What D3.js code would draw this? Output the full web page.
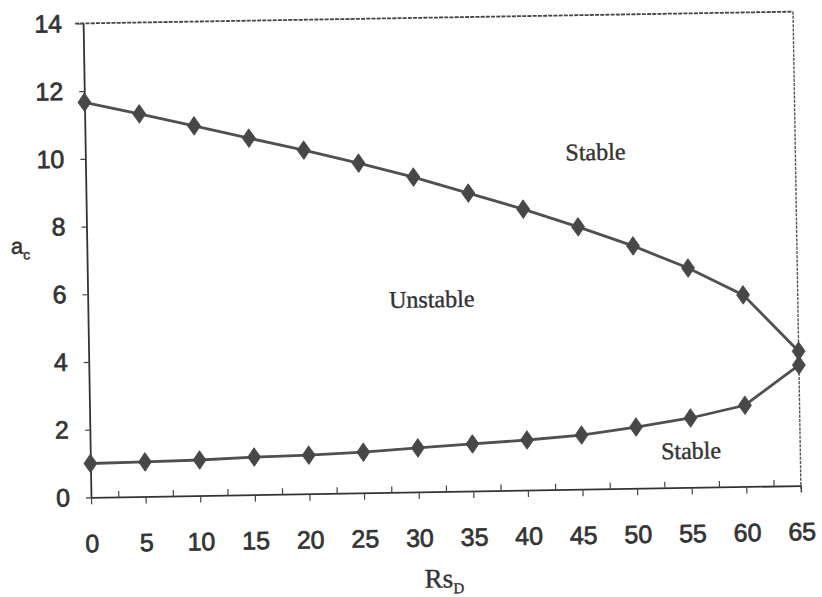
<!DOCTYPE html>
<html>
<head>
<meta charset="utf-8">
<script src="https://cdn.jsdelivr.net/npm/d3@7"></script>
<style>
  html, body { margin: 0; padding: 0; background: #fff; }
  svg { display: block; }
</style>
</head>
<body>
<svg id="chart" width="822" height="597"></svg>
<script>
// ---- data ----
const rsD = [0, 5, 10, 15, 20, 25, 30, 35, 40, 45, 50, 55, 60, 65];
const upperBranch = [11.67, 11.30, 10.92, 10.53, 10.15, 9.74, 9.30, 8.80, 8.30, 7.75, 7.16, 6.48, 5.66, 3.97];
const lowerBranch = [1.00, 1.02, 1.05, 1.11, 1.14, 1.20, 1.30, 1.39, 1.48, 1.60, 1.81, 2.05, 2.40, 3.56];
const xTicks = [0, 5, 10, 15, 20, 25, 30, 35, 40, 45, 50, 55, 60, 65];
const xMinorTicks = [2.5, 7.5, 12.5, 17.5, 22.5, 27.5, 32.5, 37.5, 42.5, 47.5, 52.5, 57.5, 62.5];
const yTicks = [0, 2, 4, 6, 8, 10, 12, 14];
const regionLabels = [
  { text: "Stable", x: 46.7, y: 9.95 },
  { text: "Unstable", x: 31.5, y: 5.68 },
  { text: "Stable", x: 55.0, y: 1.08 }
];

// ---- layout ----
const W = 822, H = 597;
const margin = { left: 87, top: 17.5 };
const width = 710, height = 474;
const angle = -0.95;
const cx = 442, cy = 254.5;

const svg = d3.select("#chart");
svg.append("rect").attr("width", W).attr("height", H).attr("fill", "#ffffff");

const root = svg.append("g").attr("transform", `rotate(${angle} ${cx} ${cy})`);
const g = root.append("g").attr("transform", `translate(${margin.left},${margin.top})`);

const x = d3.scaleLinear().domain([0, 65]).range([0, width]);
const y = d3.scaleLinear().domain([0, 14]).range([height, 0]);

const ink = "#333333";
const lineInk = "#505050";

// top and right frame (dotted in scan)
g.append("line")
  .attr("x1", -8).attr("x2", width).attr("y1", 0).attr("y2", 0)
  .attr("stroke", "#444").attr("stroke-width", 1.8).attr("stroke-dasharray", "4,1.2");
g.append("line")
  .attr("x1", width).attr("x2", width).attr("y1", 0).attr("y2", height + 6)
  .attr("stroke", "#555").attr("stroke-width", 1.4).attr("stroke-dasharray", "3,1.2");

// x axis, major ticks down
const xAxis = g.append("g").attr("transform", `translate(0,${height})`)
  .call(d3.axisBottom(x).tickValues(xTicks).tickSizeInner(7).tickSizeOuter(0).tickPadding(30).tickFormat(d3.format("d")));
// minor ticks up
const xMinor = g.append("g").attr("transform", `translate(0,${height})`)
  .call(d3.axisBottom(x).tickValues(xMinorTicks).tickSizeInner(-6).tickSizeOuter(0).tickFormat(""));
xMinor.select(".domain").remove();

// y axis
const yAxis = g.append("g")
  .call(d3.axisLeft(y).tickValues(yTicks).tickSizeInner(5).tickSizeOuter(0).tickPadding(16).tickFormat(d3.format("d")));

[xAxis, xMinor, yAxis].forEach(a => {
  a.selectAll(".domain").attr("stroke", "#333").attr("stroke-width", 1.8);
  a.selectAll(".tick line").attr("stroke", "#444").attr("stroke-width", 1.2);
});
[xAxis, yAxis].forEach(a => {
  a.selectAll(".tick text")
    .attr("font-family", "'Liberation Sans', Arial, sans-serif")
    .attr("font-size", 25).attr("fill", ink)
    .attr("stroke", ink).attr("stroke-width", 0.7);
});

// lines + markers
const line = d3.line().x(d => x(d[0])).y(d => y(d[1]));
const series = [
  rsD.map((v, i) => [v, upperBranch[i]]),
  rsD.map((v, i) => [v, lowerBranch[i]])
];
const diamond = d3.symbol().type(d3.symbolDiamond).size(100);
series.forEach(s => {
  g.append("path").datum(s).attr("d", line)
    .attr("fill", "none").attr("stroke", lineInk).attr("stroke-width", 2.8);
  g.selectAll(null).data(s).enter().append("path")
    .attr("d", diamond)
    .attr("transform", d => `translate(${x(d[0])},${y(d[1])}) scale(1.2,1)`)
    .attr("fill", "#474747").attr("stroke", "#474747").attr("stroke-width", 0.8);
});

// region labels (serif)
g.selectAll(null).data(regionLabels).enter().append("text")
  .attr("x", d => x(d.x)).attr("y", d => y(d.y))
  .attr("text-anchor", "middle").attr("dominant-baseline", "central")
  .attr("font-family", "'Liberation Serif', 'Times New Roman', serif")
  .attr("font-size", 24).attr("fill", "#333")
  .attr("stroke", "#333").attr("stroke-width", 0.4)
  .text(d => d.text);

// y axis title a_c
const yt = g.append("text")
  .attr("x", -76).attr("y", 229)
  .attr("font-family", "'Liberation Sans', Arial, sans-serif")
  .attr("font-size", 22).attr("fill", ink)
  .attr("stroke", ink).attr("stroke-width", 0.5);
yt.append("tspan").text("a");
yt.append("tspan").attr("font-size", 14).attr("dy", 6).text("c");

// x axis title Rs_D
const xt = g.append("text")
  .attr("x", width / 2 - 3).attr("y", height + 96)
  .attr("text-anchor", "middle")
  .attr("font-family", "'Liberation Serif', 'Times New Roman', serif")
  .attr("font-size", 27).attr("fill", ink)
  .attr("stroke", ink).attr("stroke-width", 0.4);
xt.append("tspan").text("Rs");
xt.append("tspan").attr("font-size", 15).attr("dy", 6).text("D");
</script>
</body>
</html>
